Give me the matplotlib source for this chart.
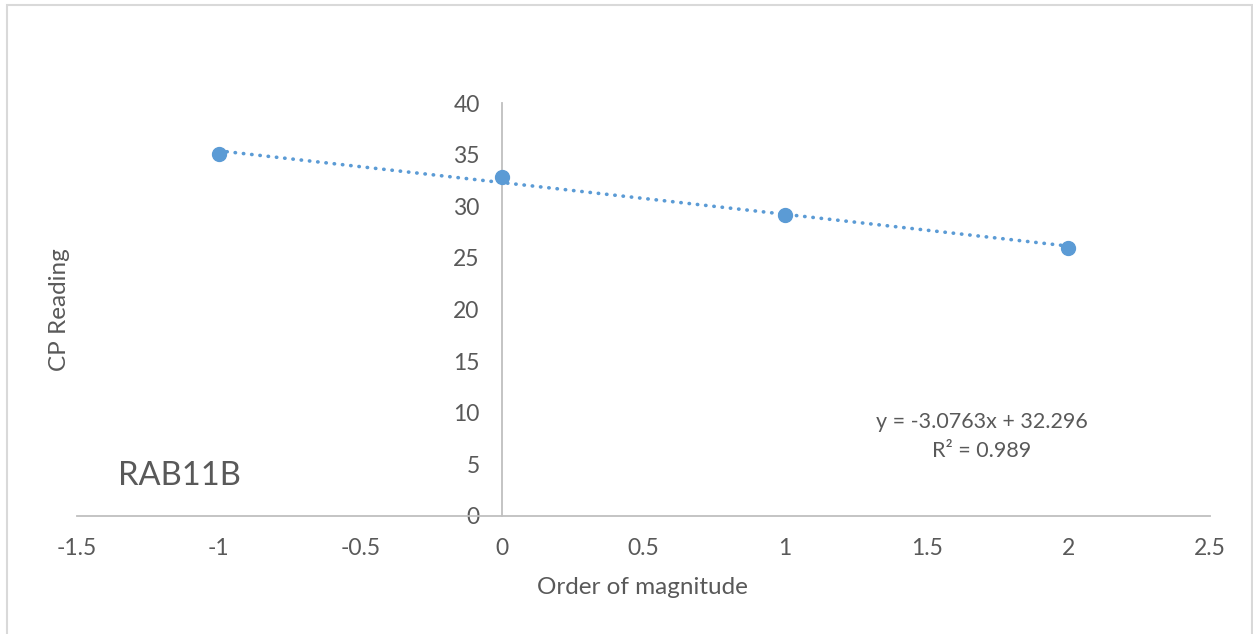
import matplotlib
matplotlib.use("Agg")
import numpy as np
from matplotlib import pyplot as plt
from matplotlib.patches import Rectangle

# data
order_of_magnitude = [-1, 0, 1, 2]
cp_reading = [35.02, 32.86, 29.15, 26.0]
x_ticks = [-1.5, -1, -0.5, 0, 0.5, 1, 1.5, 2, 2.5]
x_tick_labels = ["-1.5", "-1", "-0.5", "0", "0.5", "1", "1.5", "2", "2.5"]
y_ticks = [0, 5, 10, 15, 20, 25, 30, 35, 40]
gene_name = "RAB11B"

# trendline as reported on the chart
trend_slope = -3.0763
trend_intercept = 32.296
r_squared = 0.989

blue = "#5B9BD5"
text_col = "#595959"
axis_col = "#BFBFBF"

plt.rcParams['font.family'] = ['Lato', 'DejaVu Sans']

W, H = 1253, 634
fig = plt.figure(figsize=(W / 100, H / 100), dpi=100)
ax = fig.add_axes([77 / W, (H - 516) / H, (1210 - 77) / W, (516 - 103) / H])

xs = np.array([min(order_of_magnitude), max(order_of_magnitude)])
ax.plot(xs, trend_slope * xs + trend_intercept, color=blue, lw=2.6,
        linestyle=(0, (0.1, 2.2)), dash_capstyle="round", zorder=2)
ax.plot(order_of_magnitude, cp_reading, "o", color=blue, ms=10, zorder=3)

ax.set_xlim(-1.5, 2.5)
ax.set_ylim(0, 40)
ax.set_xticks(x_ticks)
ax.set_xticklabels(x_tick_labels)
ax.set_yticks(y_ticks)

for s in ("top", "right"):
    ax.spines[s].set_visible(False)
ax.spines["left"].set_position(("data", 0))
for s in ("left", "bottom"):
    ax.spines[s].set_color(axis_col)
    ax.spines[s].set_linewidth(1.3)
ax.tick_params(length=0, labelsize=16.5, labelcolor=text_col)
ax.tick_params(axis="x", pad=16)
ax.tick_params(axis="y", pad=16)

fig.text(642 / W, 1 - 587 / H, "Order of magnitude", ha="center", va="center",
         fontsize=17.5, color=text_col)
fig.text(60 / W, 1 - 310 / H, "CP Reading", ha="center", va="center",
         rotation=90, fontsize=17.5, color=text_col)
fig.text(118 / W, 1 - 476 / H, gene_name, ha="left", va="center",
         fontsize=23.5, color=text_col)
fig.text(982 / W, 1 - 422 / H, f"y = {trend_slope:.4f}x + {trend_intercept:.3f}",
         ha="center", va="center", fontsize=15.5, color=text_col)
fig.text(982 / W, 1 - 451 / H, f"R² = {r_squared:.3f}",
         ha="center", va="center", fontsize=15.5, color=text_col)

# chart border
fig.patches.append(Rectangle((7 / W, -0.1), (1252 - 7) / W, 1.1 - 5.5 / H,
                             transform=fig.transFigure, fill=False,
                             edgecolor="#D9D9D9", lw=1.5))

fig.savefig("out.png", dpi=100, facecolor="white")
